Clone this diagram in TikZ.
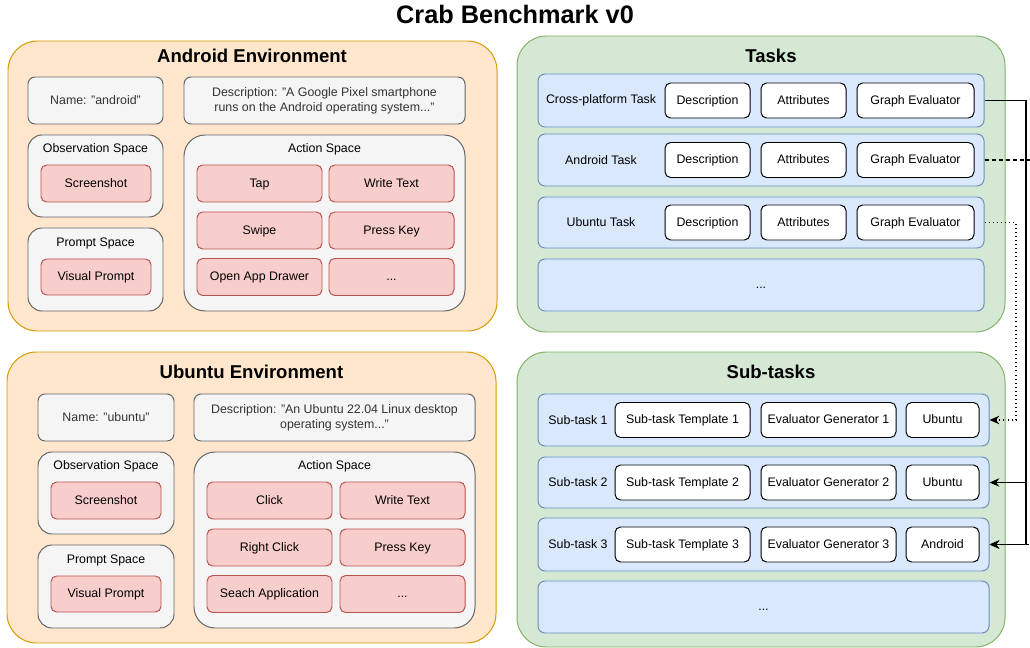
\documentclass[tikz,border=0pt]{standalone}
\usepackage{fontspec}
\setmainfont{Liberation Sans}
\usetikzlibrary{arrows.meta}

\definecolor{envfill}{HTML}{FFE6CC}
\definecolor{envline}{HTML}{D79B00}
\definecolor{greyfill}{HTML}{F5F5F5}
\definecolor{greyline}{HTML}{666666}
\definecolor{greytext}{HTML}{333333}
\definecolor{redfill}{HTML}{F8CECC}
\definecolor{redline}{HTML}{B85450}
\definecolor{taskfill}{HTML}{D5E8D4}
\definecolor{taskline}{HTML}{82B366}
\definecolor{rowfill}{HTML}{DAE8FC}
\definecolor{rowline}{HTML}{6C8EBF}

\tikzset{
    sz/.style 2 args={minimum width=#1*0.025cm, minimum height=#2*0.025cm, inner sep=0pt},
    small/.style={font=\fontsize{8.8}{10.6}\selectfont, align=center},
    oneline/.style={text height=6.6pt, text depth=1.6pt},
    envbox/.style={draw=envline, fill=envfill, line width=0.7pt, rounded corners=21pt},
    taskbox/.style={draw=taskline, fill=taskfill, line width=0.7pt, rounded corners=21pt},
    greybox/.style={small, draw=greyline, fill=greyfill, text=greytext, line width=0.7pt, rounded corners=5pt},
    spacebox/.style={draw=greyline, fill=greyfill, line width=0.7pt, rounded corners=10pt},
    actbox/.style={draw=greyline, fill=greyfill, line width=0.7pt, rounded corners=15pt},
    redbox/.style={small, oneline, draw=redline, fill=redfill, line width=0.7pt, rounded corners=4pt},
    rowbox/.style={small, oneline, draw=rowline, fill=rowfill, line width=0.7pt, rounded corners=5pt},
    whitebox/.style={small, oneline, draw=black, fill=white, line width=0.7pt, rounded corners=4pt},
    bigtitle/.style={font=\fontsize{13.2}{15}\selectfont\bfseries},
    link/.style={line width=0.8pt, -{Stealth[length=7pt,width=6pt]}}
}

\begin{document}
\begin{tikzpicture}[x=0.025cm, y=-0.025cm]
    \useasboundingbox (0,0) rectangle (1030,648);

    \node[font=\fontsize{18}{20}\selectfont\bfseries] (mainTitle) at (515,14) {Crab Benchmark v0};

    \node[envbox, sz={489}{290}] (andEnv) at (252.5,186) {};
    \node[bigtitle] (andTitle) at (252,56) {Android Environment};
    \node[greybox, oneline, sz={135}{47}] (andName) at (95.5,100.5) {Name: "android"};
    \node[greybox, sz={281}{47}] (andDesc) at (324.5,100.5) {Description: "A Google Pixel smartphone\\runs on the Android operating system..."};

    \node[spacebox, sz={135}{82}] (andObs) at (95.5,176) {};
    \node[small] (andObsLbl) at (95.5,149) {Observation Space};
    \node[redbox, sz={110}{37}] (andShot) at (96,183.5) {Screenshot};

    \node[spacebox, sz={135}{83}] (andPrompt) at (95.5,269.5) {};
    \node[small] (andPromptLbl) at (95.5,243) {Prompt Space};
    \node[redbox, sz={110}{36}] (andVisual) at (96,277) {Visual Prompt};

    \node[actbox, sz={281}{176}] (andAct) at (324.5,223) {};
    \node[small] (andActLbl) at (324.5,149) {Action Space};
    \node[redbox, sz={125}{37}] (andTap) at (259.5,183.5) {Tap};
    \node[redbox, sz={125}{37}] (andWrite) at (391.5,183.5) {Write Text};
    \node[redbox, sz={125}{37}] (andSwipe) at (259.5,230.5) {Swipe};
    \node[redbox, sz={125}{37}] (andKey) at (391.5,230.5) {Press Key};
    \node[redbox, sz={125}{37}] (andDrawer) at (259.5,277) {Open App Drawer};
    \node[redbox, sz={125}{37}] (andMore) at (391.5,277) {...};


    \node[envbox, sz={489}{291}] (ubuEnv) at (251.5,497.5) {};
    \node[bigtitle] (ubuTitle) at (251.5,372) {Ubuntu Environment};
    \node[greybox, oneline, sz={136}{47}] (ubuName) at (106,417.5) {Name: "ubuntu"};
    \node[greybox, sz={281}{47}] (ubuDesc) at (334.5,417.5) {Description: "An Ubuntu 22.04 Linux desktop\\operating system..."};

    \node[spacebox, sz={136}{82}] (ubuObs) at (106,493) {};
    \node[small] (ubuObsLbl) at (106,466) {Observation Space};
    \node[redbox, sz={110}{37}] (ubuShot) at (106,500.5) {Screenshot};

    \node[spacebox, sz={136}{83}] (ubuPrompt) at (106,586.5) {};
    \node[small] (ubuPromptLbl) at (106,560) {Prompt Space};
    \node[redbox, sz={110}{36}] (ubuVisual) at (106,594) {Visual Prompt};

    \node[actbox, sz={281}{176}] (ubuAct) at (334.5,540) {};
    \node[small] (ubuActLbl) at (334.5,466) {Action Space};
    \node[redbox, sz={125}{37}] (ubuClick) at (269.5,500.5) {Click};
    \node[redbox, sz={125}{37}] (ubuWrite) at (402.5,500.5) {Write Text};
    \node[redbox, sz={125}{37}] (ubuRight) at (269.5,547.5) {Right Click};
    \node[redbox, sz={125}{37}] (ubuKey) at (402.5,547.5) {Press Key};
    \node[redbox, sz={125}{37}] (ubuSearch) at (269.5,594) {Seach Application};
    \node[redbox, sz={125}{37}] (ubuMore) at (402.5,594) {...};


    \node[taskbox, sz={488}{296}] (tasks) at (761,184) {};
    \node[bigtitle] (tasksTitle) at (771,56) {Tasks};

    \node[rowbox, sz={446}{53}] (tCross) at (761,100.5) {};
    \node[small] (tCrossLbl) at (601,100.5) {Cross-platform Task};
    \node[whitebox, sz={85}{35}] (tCrossDesc) at (707.5,100.5) {Description};
    \node[whitebox, sz={85}{35}] (tCrossAttr) at (803.5,100.5) {Attributes};
    \node[whitebox, sz={117}{35}] (tCrossEval) at (915.5,100.5) {Graph Evaluator};

    \node[rowbox, sz={446}{52}] (tAndroid) at (761,160) {};
    \node[small] (tAndroidLbl) at (601,160) {Android Task};
    \node[whitebox, sz={85}{35}] (tAndroidDesc) at (707.5,160) {Description};
    \node[whitebox, sz={85}{35}] (tAndroidAttr) at (803.5,160) {Attributes};
    \node[whitebox, sz={117}{35}] (tAndroidEval) at (915.5,160) {Graph Evaluator};

    \node[rowbox, sz={446}{51}] (tUbuntu) at (761,222.5) {};
    \node[small] (tUbuntuLbl) at (601,222.5) {Ubuntu Task};
    \node[whitebox, sz={85}{35}] (tUbuntuDesc) at (707.5,222.5) {Description};
    \node[whitebox, sz={85}{35}] (tUbuntuAttr) at (803.5,222.5) {Attributes};
    \node[whitebox, sz={117}{35}] (tUbuntuEval) at (915.5,222.5) {Graph Evaluator};

    \node[rowbox, sz={446}{52}] (tMore) at (761,285) {...};


    \node[taskbox, sz={488}{295}] (subtasks) at (761,499.5) {};
    \node[bigtitle] (subtasksTitle) at (771,372) {Sub-tasks};

    \node[rowbox, sz={451}{52}] (sOne) at (763.5,420) {};
    \node[small] (sOneLbl) at (578,420) {Sub-task 1};
    \node[whitebox, sz={135}{35}] (sOneTmpl) at (682.5,420) {Sub-task Template 1};
    \node[whitebox, sz={135}{35}] (sOneGen) at (828.5,420) {Evaluator Generator 1};
    \node[whitebox, sz={73}{35}] (sOneEnv) at (942.5,420) {Ubuntu};

    \node[rowbox, sz={451}{51}] (sTwo) at (763.5,482.5) {};
    \node[small] (sTwoLbl) at (578,482.5) {Sub-task 2};
    \node[whitebox, sz={135}{35}] (sTwoTmpl) at (682.5,482.5) {Sub-task Template 2};
    \node[whitebox, sz={135}{35}] (sTwoGen) at (828.5,482.5) {Evaluator Generator 2};
    \node[whitebox, sz={73}{35}] (sTwoEnv) at (942.5,482.5) {Ubuntu};

    \node[rowbox, sz={451}{53}] (sThree) at (763.5,544.5) {};
    \node[small] (sThreeLbl) at (578,544.5) {Sub-task 3};
    \node[whitebox, sz={135}{35}] (sThreeTmpl) at (682.5,544.5) {Sub-task Template 3};
    \node[whitebox, sz={135}{35}] (sThreeGen) at (828.5,544.5) {Evaluator Generator 3};
    \node[whitebox, sz={73}{35}] (sThreeEnv) at (942.5,544.5) {Android};

    \node[rowbox, sz={451}{52}] (sMore) at (763.5,607) {...};


    \coordinate (crossBus) at (1026,100.5);
    \coordinate (androidBus) at (1036,160);
    \coordinate (ubuntuBus) at (1016,222.5);

    \draw[link] (tCross.east) -- (crossBus) |- (sThree.east);
    \draw[link] (crossBus |- sTwo.east) -- (sTwo.east);
    \draw[link, dash pattern=on 3pt off 2pt] (tAndroid.east) -- (androidBus) |- (sThree.east);
    \draw[link, dash pattern=on 0.7pt off 2.2pt] (tUbuntu.east) -- (ubuntuBus) |- (sOne.east);
\end{tikzpicture}
\end{document}
